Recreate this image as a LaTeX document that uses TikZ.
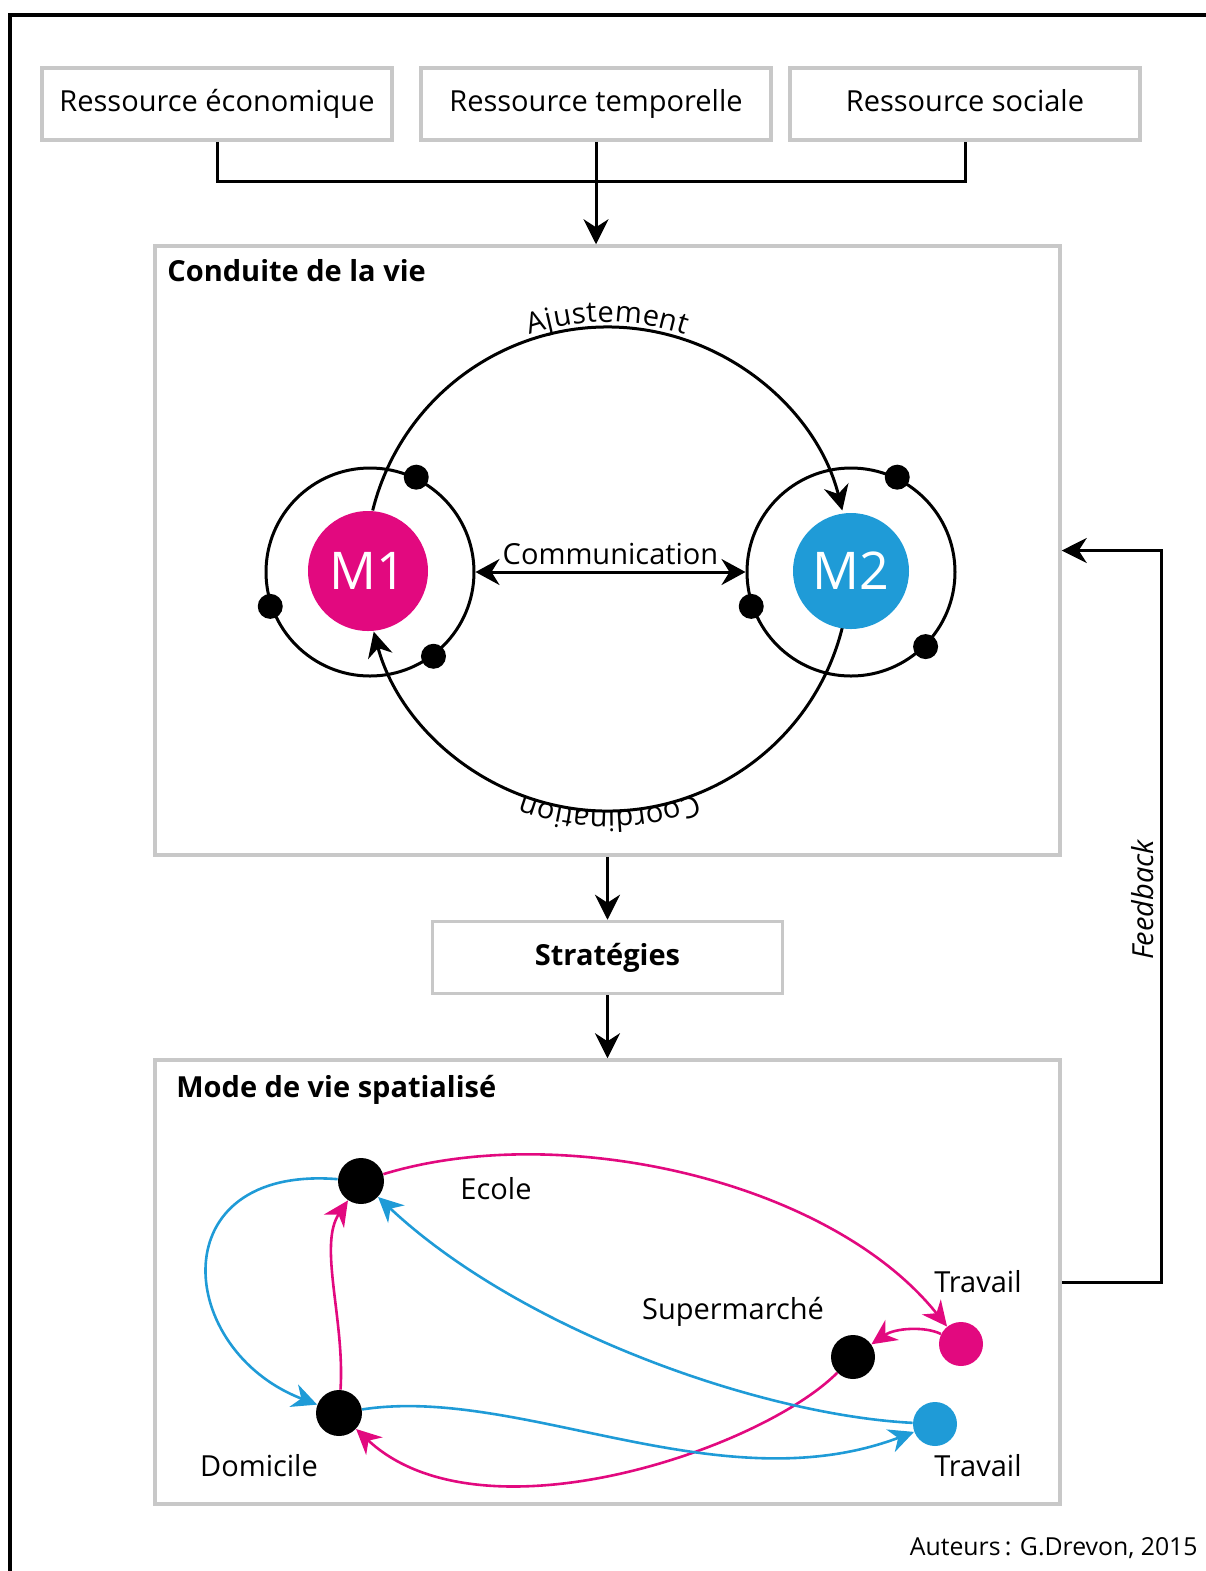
\documentclass[tikz,border=0pt]{standalone}
\usepackage{fontspec}
\setmainfont{Open Sans}
\usetikzlibrary{arrows.meta,calc,positioning,decorations.text}
\definecolor{lifemagenta}{HTML}{E2097F}
\definecolor{lifeblue}{HTML}{1F9BD7}
\definecolor{boxgray}{HTML}{C8C8C8}
\newcommand{\txt}{\fontsize{14.5pt}{17pt}\selectfont}
\tikzset{
  resbox/.style={draw=boxgray,line width=1.75pt,minimum width=175pt,minimum height=36pt,inner sep=0pt,text height=11pt,text depth=3.5pt,font=\txt},
  panel/.style={draw=boxgray,line width=1.75pt,minimum width=452.5pt,inner sep=0pt},
  lab/.style={inner sep=0pt,font=\txt},
  link/.style={line width=1.5pt},
  flow/.style={-{Stealth[length=12.5pt,width=12.5pt,inset=4pt]},line width=1.5pt},
  flowboth/.style={{Stealth[length=12pt,width=13pt,inset=4pt]}-{Stealth[length=12pt,width=13pt,inset=4pt]},line width=1.5pt},
  member/.style={circle,minimum size=60pt,inner sep=0pt,text=white,font=\fontsize{26pt}{30pt}\selectfont},
  orbit/.style={circle,draw,line width=1.5pt,minimum size=104pt,inner sep=0pt},
  bead/.style={circle,fill=black,minimum size=12.5pt,inner sep=0pt},
  place/.style={circle,minimum size=22pt,inner sep=0pt},
  mtrip/.style={-{Stealth[length=12.5pt,width=12pt,inset=4pt]},line width=1.3pt,lifemagenta},
  btrip/.style={-{Stealth[length=12.5pt,width=12pt,inset=4pt]},line width=1.3pt,lifeblue}
}
\begin{document}
\begin{tikzpicture}[x=0.5pt,y=-0.5pt]
  \useasboundingbox (0,0) rectangle (1206,1571);
  \draw[line width=2pt] (10,1571) -- (10,15) -- (1206,15);

  \node[resbox] (eco) at (217,104) {Ressource économique};
  \node[resbox] (temps) at (596,104) {Ressource temporelle};
  \node[resbox] (soc) at (965,104) {Ressource sociale};

  \node[panel,minimum height=304.5pt] (conduite) at (607.5,550.5) {};
  \node[lab,anchor=west,font=\txt\bfseries] (conduitelab) at (167,271) {Conduite de la vie};
  \node[resbox,font=\txt\bfseries] (strat) at (607.5,957.5) {Stratégies};
  \node[panel,minimum height=222pt] (mode) at (607.5,1282) {};
  \node[lab,anchor=west,font=\txt\bfseries] (modelab) at (176,1090) {Mode de vie spatialisé};

  \coordinate (merge) at (596,181);
  \draw[link] (eco.south) |- (merge) -| (soc.south);
  \draw[flow] (temps.south) -- (temps.south |- conduite.north);
  \draw[flow] (conduite.south) -- (strat.north);
  \draw[flow] (strat.south) -- (mode.north);
  \draw[flow] (mode.east) -- ++(100,0) |- (conduite.east);
  \node[lab,rotate=90,font=\txt\itshape] (fb) at (1143,900) {Feedback};

  \coordinate (hub) at (607.5,569);
  \draw[flow] ([shift={(194:242)}]hub) arc[start angle=194,end angle=346,radius=242];
  \draw[flow] ([shift={(14:242)}]hub) arc[start angle=14,end angle=165,radius=242];
  \path[decorate,decoration={text along path,text align=center,raise=2.5pt,text={|\txt|Ajustement}}]
    ([shift={(194:242)}]hub) arc[start angle=194,end angle=346,radius=242];
  \path[decorate,decoration={text along path,text align=center,raise=0pt,text={|\txt|Coordination}}]
    ([shift={(14:242)}]hub) arc[start angle=14,end angle=165,radius=242];

  \node[orbit] (orbA) at (370,572) {};
  \node[orbit] (orbB) at (851,572) {};
  \node[member,fill=lifemagenta] (m1) at (368,571) {M1};
  \node[member,fill=lifeblue,minimum size=58pt] (m2) at (851,571) {M2};
  \foreach \a in {64,199,307}
    \node[bead] (beadA\a) at (orbA.\a) {};
  \foreach \a in {64,199,315}
    \node[bead] (beadB\a) at (orbB.\a) {};
  \draw[flowboth] (orbA.east) -- (orbB.west) node[lab,midway,above=3pt] (comm) {Communication};

  \node[place,fill=black,minimum size=23pt] (ecole) at (361,1181) {};
  \node[place,fill=black,minimum size=23pt] (domicile) at (339,1413) {};
  \node[place,fill=black] (superm) at (853,1357) {};
  \node[place,fill=lifemagenta] (travm) at (961,1344) {};
  \node[place,fill=lifeblue] (travb) at (935,1424) {};
  \node[lab] (ecolelab) at (496,1189) {Ecole};
  \node[lab] (domlab) at (259,1466) {Domicile};
  \node[lab] (supermlab) at (733,1312) {Supermarché};
  \node[lab] (travmlab) at (978,1282) {Travail};
  \node[lab] (travblab) at (978,1466) {Travail};

  \draw[btrip] (ecole) .. controls (160,1165) and (175,1350) .. (domicile);
  \draw[mtrip] (domicile) .. controls (345,1320) and (318,1245) .. (ecole);
  \draw[mtrip] (ecole) .. controls (560,1120) and (830,1180) .. (travm);
  \draw[mtrip] (travm) .. controls (925,1326) and (895,1328) .. (superm);
  \draw[mtrip] (superm) .. controls (760,1450) and (480,1545) .. (domicile);
  \draw[btrip] (travb) .. controls (760,1415) and (520,1330) .. (ecole);
  \draw[btrip] (domicile) .. controls (520,1385) and (720,1505) .. (travb);

  \node[lab,anchor=east,font=\fontsize{12.4pt}{15pt}\selectfont] (credit) at (1198,1548) {Auteurs\,: G.Drevon, 2015};
\end{tikzpicture}
\end{document}
